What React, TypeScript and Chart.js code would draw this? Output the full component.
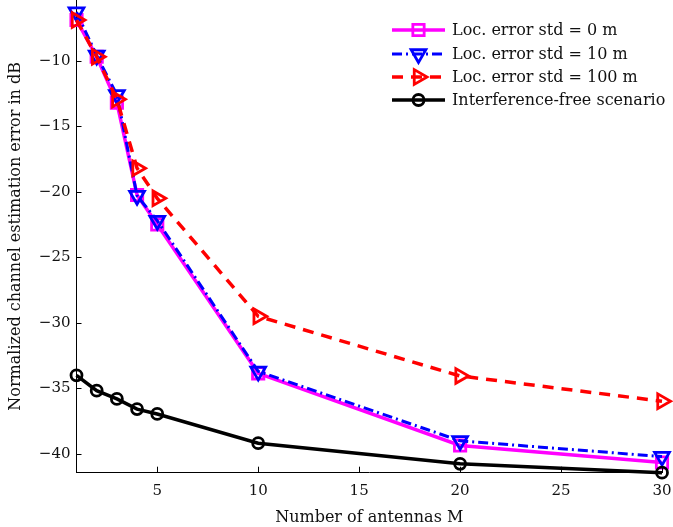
import React, { useEffect, useRef } from "react";
import { Chart, registerables } from "chart.js";

Chart.register(...registerables);

const antennas = [1, 2, 3, 4, 5, 10, 20, 30];
const err0m = [-6.9, -9.7, -13.2, -20.25, -22.5, -33.85, -39.35, -40.65];
const err10m = [-6.3, -9.6, -12.6, -20.3, -22.2, -33.7, -39.0, -40.2];
const err100m = [-6.9, -9.7, -12.95, -18.2, -20.5, -29.5, -34.05, -35.98];
const errFree = [-34.0, -35.17, -35.8, -36.58, -36.95, -39.18, -40.75, -41.43];

const seriesLabels = [
  "Loc. error std = 0 m",
  "Loc. error std = 10 m",
  "Loc. error std = 100 m",
  "Interference-free scenario",
];
const xTitle = "Number of antennas M";
const yTitle = "Normalized channel estimation error in dB";
const xTicks = [5, 10, 15, 20, 25, 30];
const yTicks = [-40, -35, -30, -25, -20, -15, -10];

const FONT = "'DejaVu Serif', serif";

type Style = {
  color: string;
  width: number;
  dash: number[];
  point: string;
  radius: number;
  rotation: number;
};

const styles: Style[] = [
  { color: "#ff00ff", width: 3.5, dash: [], point: "rect", radius: 8, rotation: 0 },
  { color: "#0000ff", width: 3, dash: [10, 4, 2, 4], point: "triangle", radius: 8.5, rotation: 180 },
  { color: "#ff0000", width: 3.5, dash: [11, 8], point: "triangle", radius: 8.5, rotation: 90 },
  { color: "#000000", width: 3.5, dash: [], point: "circle", radius: 5.5, rotation: 0 },
];

const seriesData = [err0m, err10m, err100m, errFree];
const orders = [3, 2, 1, 0];
const MARKER_LW = 2.8;

function drawMarker(ctx: CanvasRenderingContext2D, s: Style, x: number, y: number) {
  ctx.save();
  ctx.setLineDash([]);
  ctx.strokeStyle = s.color;
  ctx.lineWidth = MARKER_LW;
  ctx.beginPath();
  if (s.point === "rect") {
    const h = Math.SQRT1_2 * s.radius;
    ctx.rect(x - h, y - h, 2 * h, 2 * h);
  } else if (s.point === "circle") {
    ctx.arc(x, y, s.radius, 0, Math.PI * 2);
  } else {
    let rad = (s.rotation * Math.PI) / 180;
    const r = s.radius;
    ctx.moveTo(x + Math.sin(rad) * r, y - Math.cos(rad) * r);
    rad += (2 * Math.PI) / 3;
    ctx.lineTo(x + Math.sin(rad) * r, y - Math.cos(rad) * r);
    rad += (2 * Math.PI) / 3;
    ctx.lineTo(x + Math.sin(rad) * r, y - Math.cos(rad) * r);
    ctx.closePath();
  }
  ctx.stroke();
  ctx.restore();
}

const customPlugin = {
  id: "customDecor",
  afterDraw(chart: any) {
    const ctx: CanvasRenderingContext2D = chart.ctx;
    const area = chart.chartArea;
    const xs = chart.scales.x;
    const ys = chart.scales.y;
    ctx.save();
    // inner tick marks
    ctx.strokeStyle = "#000";
    ctx.lineWidth = 1;
    ctx.setLineDash([]);
    ctx.beginPath();
    xTicks.forEach((v) => {
      const px = Math.round(xs.getPixelForValue(v)) + 0.5;
      ctx.moveTo(px, area.bottom);
      ctx.lineTo(px, area.bottom - 6);
    });
    yTicks.forEach((v) => {
      const py = Math.round(ys.getPixelForValue(v)) + 0.5;
      ctx.moveTo(area.left, py);
      ctx.lineTo(area.left + 5, py);
    });
    ctx.stroke();

    // legend
    const rowsY = [30, 54, 77, 100];
    const x0 = 392;
    const x1 = 445;
    ctx.font = "16px " + FONT;
    ctx.textBaseline = "middle";
    ctx.textAlign = "left";
    styles.forEach((s, i) => {
      const y = rowsY[i];
      ctx.save();
      ctx.strokeStyle = s.color;
      ctx.lineWidth = s.width;
      ctx.setLineDash(s.dash);
      ctx.beginPath();
      ctx.moveTo(x0, y);
      ctx.lineTo(x1, y);
      ctx.stroke();
      ctx.restore();
      drawMarker(ctx, s, (x0 + x1) / 2, y);
      ctx.fillStyle = "#111";
      ctx.fillText(seriesLabels[i], 452, y + 1);
    });
    ctx.restore();
  },
};

export default function App() {
  const ref = useRef<HTMLCanvasElement | null>(null);

  useEffect(() => {
    if (!ref.current) return;
    const datasets = seriesData.map((d, i) => {
      const s = styles[i];
      return {
        label: seriesLabels[i],
        data: antennas.map((x, j) => ({ x, y: d[j] })),
        borderColor: s.color,
        backgroundColor: "rgba(0,0,0,0)",
        borderWidth: s.width,
        borderDash: s.dash,
        pointStyle: s.point,
        pointRadius: s.radius,
        pointRotation: s.rotation,
        pointBorderWidth: MARKER_LW,
        pointBorderColor: s.color,
        pointBackgroundColor: "rgba(0,0,0,0)",
        tension: 0,
        fill: false,
        clip: false as any,
        order: orders[i],
      };
    });

    const chart = new Chart(ref.current, {
      type: "line",
      data: { datasets },
      options: {
        animation: false,
        responsive: false,
        devicePixelRatio: 1,
        layout: { autoPadding: false, padding: { top: 0, right: 11, left: 0, bottom: 0 } },
        plugins: {
          legend: { display: false },
          tooltip: { enabled: false },
        },
        scales: {
          x: {
            type: "linear",
            min: 1,
            max: 30,
            afterFit: (scale: any) => {
              scale.height = 54.3;
              scale.paddingLeft = 0;
              scale.paddingRight = 0;
            },
            grid: { display: false, drawTicks: false },
            border: { display: true, color: "#000", width: 1 },
            ticks: {
              stepSize: 5,
              includeBounds: false,
              padding: 9,
              color: "#111",
              font: { family: FONT, size: 15 },
              maxRotation: 0,
            },
            title: {
              display: true,
              text: xTitle,
              color: "#111",
              font: { family: FONT, size: 16 },
              padding: { top: 0, bottom: 0 },
            },
          },
          y: {
            type: "linear",
            min: -41.43,
            max: -5.37,
            afterFit: (scale: any) => {
              scale.width = 76.5;
              scale.paddingTop = 0;
              scale.paddingBottom = 0;
            },
            grid: { display: false, drawTicks: false },
            border: { display: true, color: "#000", width: 1 },
            ticks: {
              stepSize: 5,
              includeBounds: false,
              padding: 6,
              color: "#111",
              font: { family: FONT, size: 15 },
              callback: (v: any) => (Number(v) < 0 ? "\u2212" + Math.abs(Number(v)) : String(v)),
            },
            title: {
              display: true,
              text: yTitle,
              color: "#111",
              font: { family: FONT, size: 16 },
              padding: { top: 6, bottom: 0 },
            },
          },
        },
      } as any,
      plugins: [customPlugin],
    });
    return () => chart.destroy();
  }, []);

  return (
    <div style={{ position: "fixed", left: 0, top: 0, width: 673, height: 527, background: "#fff" }}>
      <canvas ref={ref} width={673} height={527} style={{ width: 673, height: 527, display: "block" }} />
    </div>
  );
}
